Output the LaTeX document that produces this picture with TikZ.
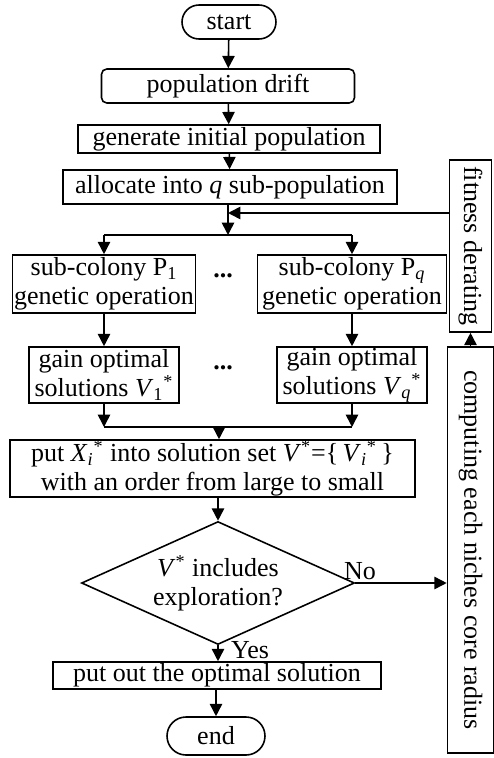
\documentclass[tikz,border=0pt]{standalone}
\usepackage{fontspec}
\setmainfont{Liberation Serif}
\usetikzlibrary{arrows.meta,shapes.geometric}

\tikzset{
    box/.style={draw, line width=0.9pt, inner sep=0pt, align=center},
    roundbox/.style={box, rounded corners=0.34cm},
    arr/.style={line width=0.9pt, -{Triangle[length=7pt,width=7pt]}},
    line/.style={line width=0.9pt}
}

\begin{document}
\begin{tikzpicture}[font=\fontsize{14.8}{16.5}\selectfont]

    \useasboundingbox (0,0) rectangle (9.88,-15.16);

    % main column
    \node[roundbox, minimum width=1.88cm, minimum height=0.68cm] (start) at (4.58,-0.44) {start};
    \node[box, rounded corners=3pt, minimum width=5.06cm, minimum height=0.68cm] (drift) at (4.56,-1.72) {population drift};
    \node[box, minimum width=6.04cm, minimum height=0.56cm] (init) at (4.58,-2.78) {generate initial population};
    \node[box, minimum width=6.68cm, minimum height=0.68cm] (alloc) at (4.6,-3.74) {allocate into \textit{q} sub-population};

    % sub-colonies
    \node[box, minimum width=3.66cm, minimum height=1.16cm] (subone) at (2.08,-5.68) {sub-colony P\textsubscript{1}\\genetic operation};
    \node[box, minimum width=3.78cm, minimum height=1.16cm] (subq) at (7.04,-5.68) {sub-colony P\textsubscript{\textit{q}}\\genetic operation};
    \node (dotsa) at (4.46,-5.52) {\textbf{...}};

    \node[box, minimum width=3.0cm, minimum height=1.12cm] (gainone) at (2.08,-7.5) {gain optimal\\solutions \textit{V}\textsubscript{1}\textsuperscript{*}};
    \node[box, minimum width=3.0cm, minimum height=1.12cm] (gainq) at (7.04,-7.5) {gain optimal\\solutions \textit{V}\textsubscript{\textit{q}}\textsuperscript{*}};
    \node (dotsb) at (4.46,-7.36) {\textbf{...}};

    \node[box, minimum width=8.1cm, minimum height=1.14cm] (putx) at (4.25,-9.37)
        {put \textit{X}\textsubscript{\textit{i}}\textsuperscript{*} into solution set \textit{V}\textsuperscript{*}=\{\,\textit{V}\textsubscript{\textit{i}}\textsuperscript{*}\,\}\\with an order from large to small};

    \node[draw, line width=0.9pt, diamond, aspect=2.22, inner sep=0pt, minimum width=5.46cm, minimum height=2.46cm, align=center] (check) at (4.36,-11.66)
        {\textit{V}\textsuperscript{*} includes\\exploration?};

    \node[box, minimum width=6.56cm, minimum height=0.54cm] (output) at (4.34,-13.51) {put out the optimal solution};
    \node[roundbox, rounded corners=0.38cm, minimum width=1.96cm, minimum height=0.76cm] (end) at (4.32,-14.72) {end};

    % niche side column
    \node[box, rotate=-90, minimum width=3.44cm, minimum height=0.84cm] (derate) at (9.41,-4.92) {fitness derating};
    \node[box, rotate=-90, minimum width=8.12cm, minimum height=0.92cm] (radius) at (9.41,-11.0) {computing each niches core radius};

    \node (no) at (7.2,-11.42) {No};
    \node (yes) at (5.0,-13.0) {Yes};

    % connectors
    \coordinate (split) at (4.56,-4.7);
    \coordinate (join) at (4.38,-8.54);
    \coordinate (back) at ([yshift=6.6mm]derate.south);

    \draw[arr] (start) -- (drift);
    \draw[arr] (drift) -- (init);
    \draw[arr] (init) -- (alloc);
    \draw[arr] (alloc.south -| split) -- (split);
    \draw[line] (subone.north |- split) -- (subq.north |- split);
    \draw[arr] (subone.north |- split) -- (subone);
    \draw[arr] (subq.north |- split) -- (subq);

    \draw[arr] (subone) -- (gainone);
    \draw[arr] (subq) -- (gainq);

    \draw[arr] (gainone) -- (gainone.south |- join);
    \draw[arr] (gainq) -- (gainq.south |- join);
    \draw[line] (gainone.south |- join) -- (gainq.south |- join);
    \draw[arr] (join) -- (join |- putx.north);

    \draw[arr] (putx.south -| check.north) -- (check);
    \draw[arr] (check.south) -- (output.north -| check.south);
    \draw[arr] (output.south -| end.north) -- (end);

    \draw[arr] (check.east) -- (check.east -| radius.south);
    \draw[arr] (radius.west) -- (derate.east);
    \draw[arr] (back) -- (back -| split);

\end{tikzpicture}
\end{document}
